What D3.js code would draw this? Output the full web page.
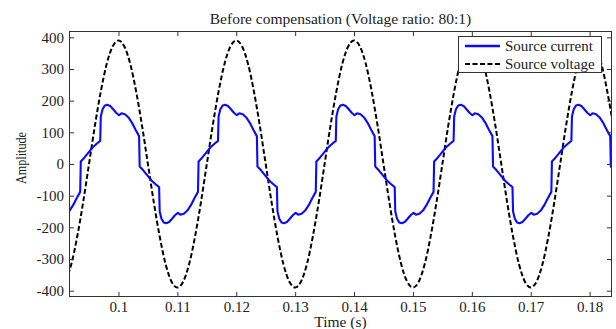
<!DOCTYPE html>
<html>
<head>
<meta charset="utf-8">
<script src="https://cdn.jsdelivr.net/npm/d3@7"></script>
<style>
body { margin: 0; background: #fff; }
text { font-family: "Liberation Serif", "Times New Roman", serif; }
</style>
</head>
<body>
<div id="container"></div>
<script>
let w = 616;
let h = 329;
let margin = {left: 69, top: 31, right: 4, bottom: 32};

let xTicks = [0.1, 0.11, 0.12, 0.13, 0.14, 0.15, 0.16, 0.17, 0.18];
let xTickLabels = ["0.1", "0.11", "0.12", "0.13", "0.14", "0.15", "0.16", "0.17", "0.18"];
let yTicks = [-400, -300, -200, -100, 0, 100, 200, 300, 400];
let seriesNames = ["Source current", "Source voltage"];

// voltage read every 1 ms, from 0.091 s to 0.184 s
let voltageTime = d3.range(91, 185).map(function(k){ return k / 1000; });
let sourceVoltage = [
  -371, -316, -229, -121, 0, 121, 229, 316, 371, 390, 371, 316, 229, 121, 0, -121, -229, -316, -371, -390,
  -371, -316, -229, -121, 0, 121, 229, 316, 371, 390, 371, 316, 229, 121, 0, -121, -229, -316, -371, -390,
  -371, -316, -229, -121, 0, 121, 229, 316, 371, 390, 371, 316, 229, 121, 0, -121, -229, -316, -371, -390,
  -371, -316, -229, -121, 0, 121, 229, 316, 371, 390, 371, 316, 229, 121, 0, -121, -229, -316, -371, -390,
  -371, -316, -229, -121, 0, 121, 229, 316, 371, 390, 371, 316, 229, 121
];

// current: [time, amplitude]
let sourceCurrent = [
  [0.0911, -157], [0.0917, -147], [0.0923, -130], [0.0929, -108], [0.0935, -88],
  [0.0936, 8], [0.0942, 20], [0.0949, 36], [0.0956, 52], [0.0963, 64], [0.0969, 73], [0.0970, 150], [0.0973, 173], [0.0977, 185], [0.0981, 187],
  [0.0986, 183], [0.0991, 173], [0.0996, 162], [0.1001, 154], [0.1005, 160], [0.1011, 157], [0.1017, 147], [0.1023, 130], [0.1029, 108], [0.1035, 88],
  [0.1036, -8], [0.1042, -20], [0.1049, -36], [0.1056, -52], [0.1063, -64], [0.1069, -73], [0.1070, -150], [0.1073, -173], [0.1077, -185], [0.1081, -187],
  [0.1086, -183], [0.1091, -173], [0.1096, -162], [0.1101, -154], [0.1105, -160], [0.1111, -157], [0.1117, -147], [0.1123, -130], [0.1129, -108], [0.1135, -88],
  [0.1136, 8], [0.1142, 20], [0.1149, 36], [0.1156, 52], [0.1163, 64], [0.1169, 73], [0.1170, 150], [0.1173, 173], [0.1177, 185], [0.1181, 187],
  [0.1186, 183], [0.1191, 173], [0.1196, 162], [0.1201, 154], [0.1205, 160], [0.1211, 157], [0.1217, 147], [0.1223, 130], [0.1229, 108], [0.1235, 88],
  [0.1236, -8], [0.1242, -20], [0.1249, -36], [0.1256, -52], [0.1263, -64], [0.1269, -73], [0.1270, -150], [0.1273, -173], [0.1277, -185], [0.1281, -187],
  [0.1286, -183], [0.1291, -173], [0.1296, -162], [0.1301, -154], [0.1305, -160], [0.1311, -157], [0.1317, -147], [0.1323, -130], [0.1329, -108], [0.1335, -88],
  [0.1336, 8], [0.1342, 20], [0.1349, 36], [0.1356, 52], [0.1363, 64], [0.1369, 73], [0.1370, 150], [0.1373, 173], [0.1377, 185], [0.1381, 187],
  [0.1386, 183], [0.1391, 173], [0.1396, 162], [0.1401, 154], [0.1405, 160], [0.1411, 157], [0.1417, 147], [0.1423, 130], [0.1429, 108], [0.1435, 88],
  [0.1436, -8], [0.1442, -20], [0.1449, -36], [0.1456, -52], [0.1463, -64], [0.1469, -73], [0.1470, -150], [0.1473, -173], [0.1477, -185], [0.1481, -187],
  [0.1486, -183], [0.1491, -173], [0.1496, -162], [0.1501, -154], [0.1505, -160], [0.1511, -157], [0.1517, -147], [0.1523, -130], [0.1529, -108], [0.1535, -88],
  [0.1536, 8], [0.1542, 20], [0.1549, 36], [0.1556, 52], [0.1563, 64], [0.1569, 73], [0.1570, 150], [0.1573, 173], [0.1577, 185], [0.1581, 187],
  [0.1586, 183], [0.1591, 173], [0.1596, 162], [0.1601, 154], [0.1605, 160], [0.1611, 157], [0.1617, 147], [0.1623, 130], [0.1629, 108], [0.1635, 88],
  [0.1636, -8], [0.1642, -20], [0.1649, -36], [0.1656, -52], [0.1663, -64], [0.1669, -73], [0.1670, -150], [0.1673, -173], [0.1677, -185], [0.1681, -187],
  [0.1686, -183], [0.1691, -173], [0.1696, -162], [0.1701, -154], [0.1705, -160], [0.1711, -157], [0.1717, -147], [0.1723, -130], [0.1729, -108], [0.1735, -88],
  [0.1736, 8], [0.1742, 20], [0.1749, 36], [0.1756, 52], [0.1763, 64], [0.1769, 73], [0.1770, 150], [0.1773, 173], [0.1777, 185], [0.1781, 187],
  [0.1786, 183], [0.1791, 173], [0.1796, 162], [0.1801, 154], [0.1805, 160], [0.1811, 157], [0.1817, 147], [0.1823, 130], [0.1829, 108], [0.1835, 88],
  [0.1836, -8], [0.1842, -20]
];

let viz = d3.select("#container").append("svg")
  .attr("width", w)
  .attr("height", h)
  .style("background-color", "white");

let x = d3.scaleLinear().domain([0.0916, 0.1838]).range([margin.left, w - margin.right]);
let y = d3.scaleLinear().domain([-420, 420]).range([h - margin.bottom, margin.top]);

viz.append("clipPath").attr("id", "plotclip")
  .append("rect")
  .attr("x", margin.left).attr("y", margin.top)
  .attr("width", w - margin.left - margin.right)
  .attr("height", h - margin.top - margin.bottom);

let plot = viz.append("g").attr("clip-path", "url(#plotclip)");

let voltageLine = d3.line()
  .x(function(d, i){ return x(voltageTime[i]); })
  .y(function(d){ return y(d); })
  .curve(d3.curveMonotoneX);

let currentLine = d3.line()
  .x(function(d){ return x(d[0]); })
  .y(function(d){ return y(d[1]); });

plot.append("path")
  .datum(sourceVoltage)
  .attr("d", voltageLine)
  .attr("fill", "none")
  .attr("stroke", "black")
  .attr("stroke-width", 2)
  .attr("stroke-dasharray", "5,2.5");

plot.append("path")
  .datum(sourceCurrent)
  .attr("d", currentLine)
  .attr("fill", "none")
  .attr("stroke", "#0a0aff")
  .attr("stroke-width", 2.1)
  .attr("stroke-linejoin", "round");

// axes, ticks pointing inwards on all four sides
let axisB = viz.append("g")
  .attr("transform", "translate(0," + (h - margin.bottom) + ")")
  .call(d3.axisBottom(x).tickValues(xTicks).tickSize(-5).tickSizeOuter(0).tickPadding(4)
    .tickFormat(function(d, i){ return xTickLabels[i]; }));
let axisT = viz.append("g")
  .attr("transform", "translate(0," + margin.top + ")")
  .call(d3.axisTop(x).tickValues(xTicks).tickSize(-5).tickSizeOuter(0).tickFormat(""));
let axisL = viz.append("g")
  .attr("transform", "translate(" + margin.left + ",0)")
  .call(d3.axisLeft(y).tickValues(yTicks).tickSize(-5).tickSizeOuter(0).tickPadding(5)
    .tickFormat(function(d){ return String(d); }));
let axisR = viz.append("g")
  .attr("transform", "translate(" + (w - margin.right) + ",0)")
  .call(d3.axisRight(y).tickValues(yTicks).tickSize(-5).tickSizeOuter(0).tickFormat(""));

viz.selectAll(".domain").remove();
viz.selectAll(".tick line").attr("stroke", "#333");
viz.selectAll(".tick text")
  .attr("fill", "#222")
  .style("font-size", "15px")
  .style("font-family", "'Liberation Serif', 'Times New Roman', serif");

viz.append("rect")
  .attr("x", margin.left + 0.5)
  .attr("y", margin.top + 0.5)
  .attr("width", w - margin.left - margin.right - 1)
  .attr("height", h - margin.top - margin.bottom - 1)
  .attr("fill", "none")
  .attr("stroke", "#333");

viz.append("text")
  .attr("x", (margin.left + w - margin.right) / 2)
  .attr("y", 24)
  .attr("text-anchor", "middle")
  .attr("fill", "#222")
  .style("font-size", "15.5px")
  .text("Before compensation (Voltage ratio: 80:1)");

viz.append("text")
  .attr("x", (margin.left + w - margin.right) / 2)
  .attr("y", 327)
  .attr("text-anchor", "middle")
  .attr("fill", "#222")
  .style("font-size", "15.5px")
  .text("Time (s)");

viz.append("text")
  .attr("transform", "translate(26,158) rotate(-90)")
  .attr("text-anchor", "middle")
  .attr("fill", "#222")
  .style("font-size", "15px")
  .attr("textLength", 52)
  .attr("lengthAdjust", "spacingAndGlyphs")
  .text("Amplitude");

// legend
let legend = viz.append("g");
legend.append("rect")
  .attr("x", 458.5).attr("y", 36.5)
  .attr("width", 143).attr("height", 36)
  .attr("fill", "white")
  .attr("stroke", "#333");

let legendStyles = [
  {stroke: "#0a0aff", width: 2.4, dash: null},
  {stroke: "black", width: 2, dash: "5,2.5"}
];
seriesNames.forEach(function(name, i){
  let ly = 46 + i * 18;
  legend.append("line")
    .attr("x1", 465).attr("x2", 500)
    .attr("y1", ly).attr("y2", ly)
    .attr("stroke", legendStyles[i].stroke)
    .attr("stroke-width", legendStyles[i].width)
    .attr("stroke-dasharray", legendStyles[i].dash);
  legend.append("text")
    .attr("x", 505).attr("y", ly + 5)
    .attr("fill", "#222")
    .style("font-size", "15px")
    .text(name);
});
</script>
</body>
</html>
